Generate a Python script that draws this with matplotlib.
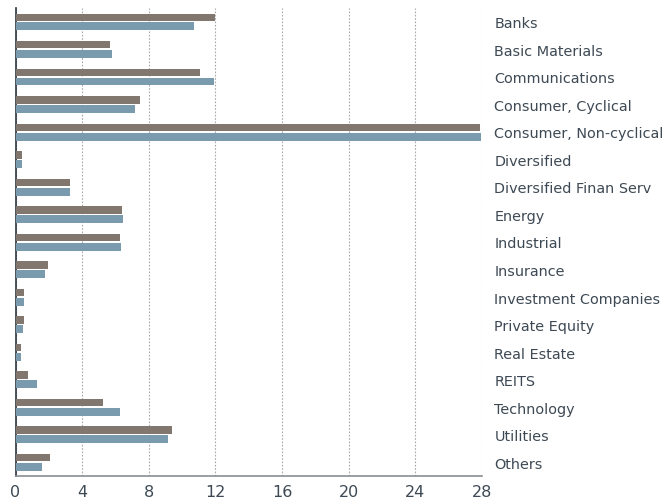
import numpy as np
import matplotlib.pyplot as plt

categories = ['Banks', 'Basic Materials', 'Communications', 'Consumer, Cyclical',
              'Consumer, Non-cyclical', 'Diversified', 'Diversified Finan Serv',
              'Energy', 'Industrial', 'Insurance', 'Investment Companies',
              'Private Equity', 'Real Estate', 'REITS', 'Technology', 'Utilities',
              'Others']
series_a = [12.0, 5.7, 11.05, 7.5, 27.9, 0.39, 3.27, 6.38, 6.26, 1.95, 0.51,
            0.51, 0.33, 0.75, 5.25, 9.38, 2.07]
series_b = [10.7, 5.79, 11.9, 7.16, 27.95, 0.39, 3.27, 6.44, 6.32, 1.77, 0.51,
            0.45, 0.33, 1.29, 6.26, 9.14, 1.59]
xticks = [0, 4, 8, 12, 16, 20, 24, 28]

text_color = '#3d4954'

fig = plt.figure(figsize=(6.7, 5.02), dpi=100)
ax = fig.add_axes([15.5 / 670, 25 / 502, 466.5 / 670, 468 / 502])

y = np.arange(len(categories))
ax.barh(y - 0.165, series_a, height=0.27, color='#82776e', zorder=3)
ax.barh(y + 0.17, series_b, height=0.29, color='#7a9aae', zorder=3)

ax.set_ylim(len(categories) - 0.5, -0.5)
ax.set_xlim(0, 28)
ax.set_xticks(xticks)
ax.set_xticklabels([str(t) for t in xticks], fontsize=11.5, color=text_color)
ax.tick_params(axis='x', length=0, pad=6)

ax.set_yticks(y)
ax.set_yticklabels(categories, fontsize=10.4, color=text_color)
ax.yaxis.tick_right()
ax.tick_params(axis='y', length=0, pad=9)

ax.grid(axis='x', linestyle=(0, (1.5, 1.5)), color='#a8a8a8', linewidth=0.8, zorder=0)
for s in ['top', 'right']:
    ax.spines[s].set_visible(False)
ax.spines['left'].set_color('#2b3540')
ax.spines['left'].set_linewidth(1.2)
ax.spines['bottom'].set_color('#8a8f94')
ax.spines['bottom'].set_linewidth(1.2)

fig.savefig('out.png', dpi=100)
